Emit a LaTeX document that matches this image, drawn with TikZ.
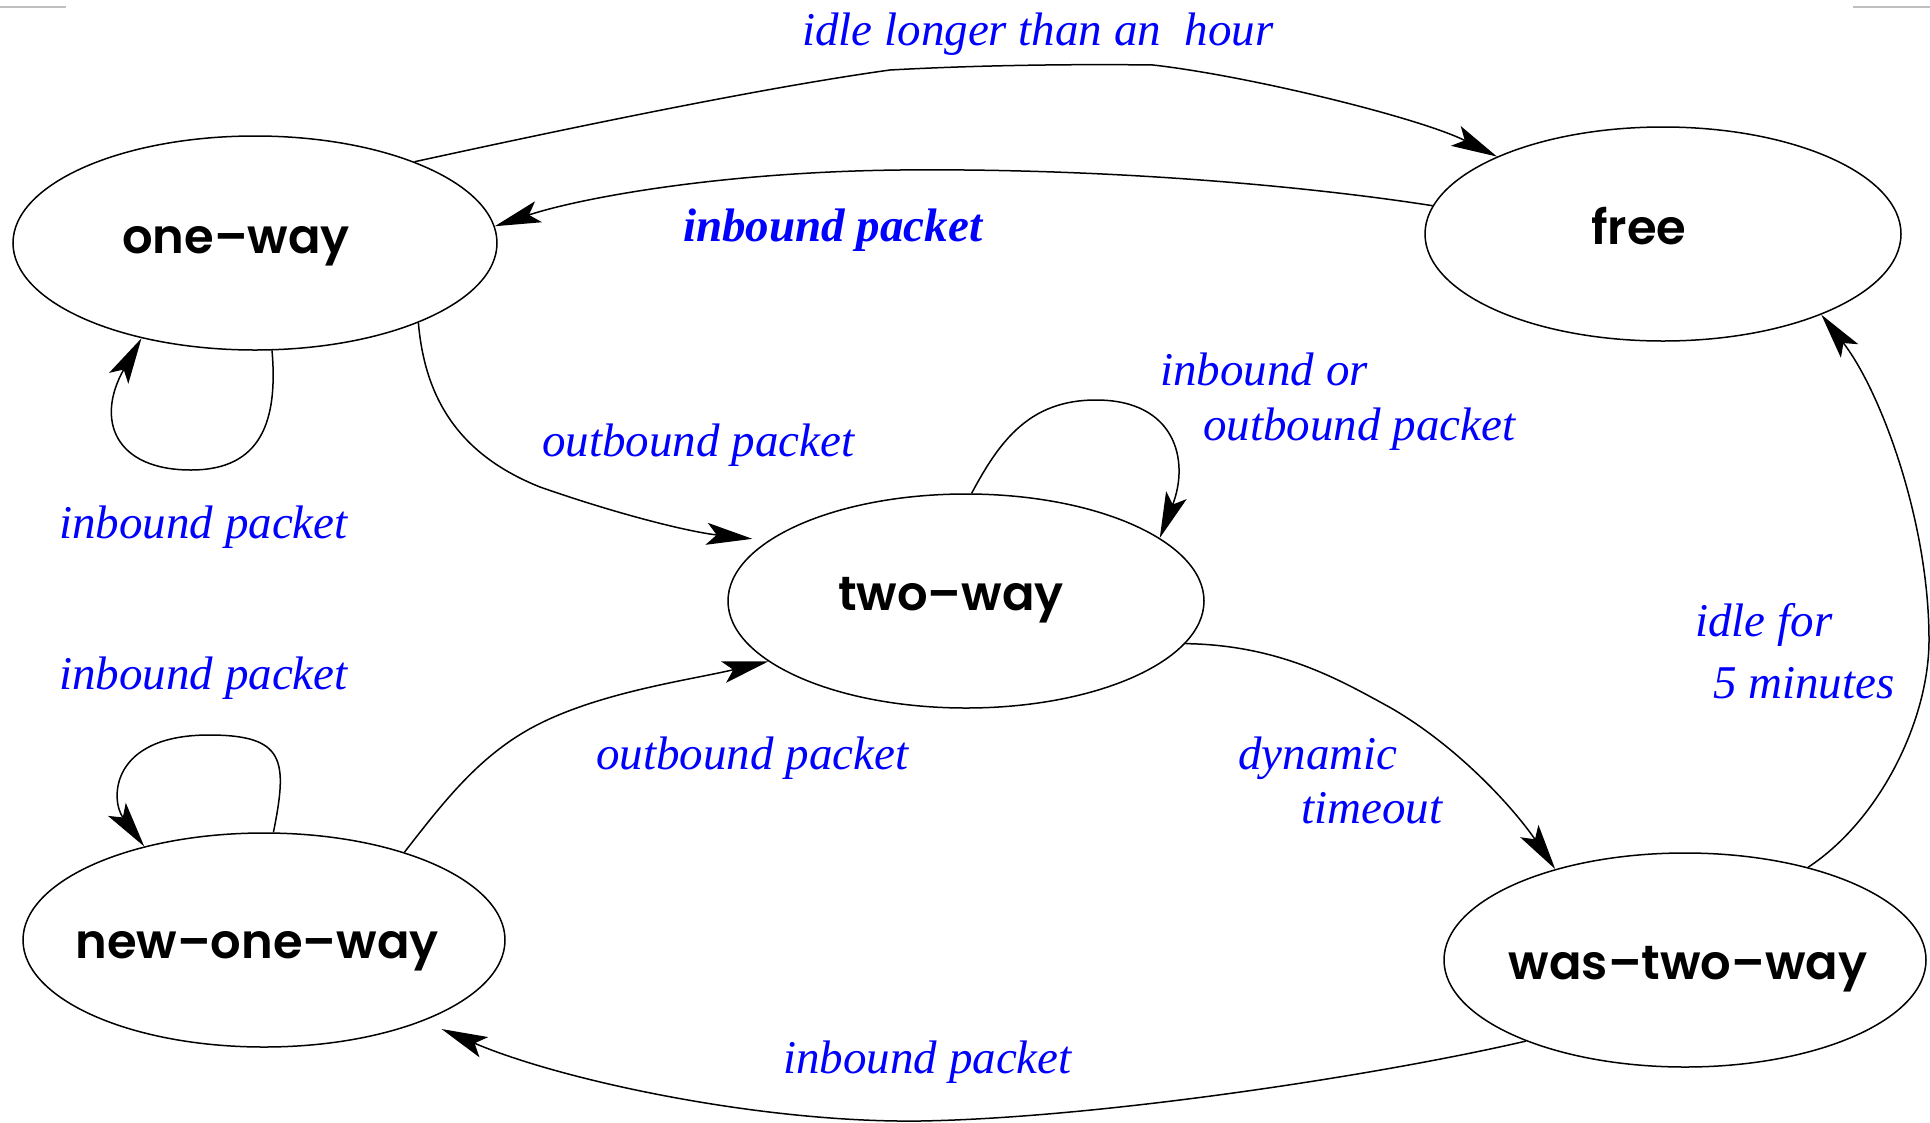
\documentclass[tikz,border=0pt]{standalone}
\usepackage{fontspec}
\setmainfont{Liberation Serif}
\newfontfamily\statefont{Poppins}[BoldFont={Poppins SemiBold}]
\usetikzlibrary{shapes.geometric,arrows.meta}
\begin{document}
\begin{tikzpicture}[x=1pt,y=-1pt,
  st/.style={draw,ellipse,line width=1.5pt,minimum height=214pt,inner sep=0pt},
  stname/.style={anchor=base,inner sep=0pt,font=\statefont\bfseries\fontsize{48}{56}\selectfont},
  lbl/.style={anchor=base west,inner sep=0pt,text=blue,font=\itshape\fontsize{47}{56}\selectfont},
  lblb/.style={anchor=base west,inner sep=0pt,text=blue,font=\bfseries\itshape\fontsize{47}{56}\selectfont},
  edge/.style={draw,line width=1.5pt,-{Stealth[length=46pt,width=22pt,inset=10pt]}},
  corner/.style={draw=black!25,line width=2.5pt}
]
\useasboundingbox (0,0) rectangle (1930,1122);
\fill[white] (0,0) rectangle (1930,1122);
\draw[corner] (0,7) -- (66,7);
\draw[corner] (1853,7) -- (1930,7);

% states
\node[st,minimum width=484pt] (oneway) at (255,243) {};
\node[st,minimum width=476pt] (free)   at (1663,234) {};
\node[st,minimum width=476pt] (twoway) at (966,601) {};
\node[st,minimum width=482pt] (newone) at (264,940) {};
\node[st,minimum width=482pt] (wastwo) at (1685,960) {};

\node[stname] (oneway-t) at (236,253) {one–way};
\node[stname] (free-t)   at (1639,244) {free};
\node[stname] (twoway-t) at (951,610) {two–way};
\node[stname] (newone-t) at (257,958) {new–one–way};
\node[stname] (wastwo-t) at (1688,979) {was–two–way};

% transitions
\draw[edge] (oneway.27) .. controls (560,130) and (760,88) .. (890,70)
   .. controls (980,65) and (1080,64) .. (1153,65)
   .. controls (1250,76) and (1420,118) .. (free.155);
\draw[edge] (free.173) .. controls (1300,185) and (1100,168) .. (900,170)
   .. controls (720,172) and (580,198) .. (oneway.4);
\draw[edge] (oneway.279) .. controls (278,420) and (262,470) .. (191,470)
   .. controls (115,470) and (95,420) .. (oneway.220);
\draw[edge,shorten >=16pt] (oneway.334) .. controls (425,400) and (460,455) .. (540,487)
   .. controls (620,515) and (690,532) .. (twoway.163);
\draw[edge] (twoway.87) .. controls (1000,440) and (1030,400) .. (1096,400)
   .. controls (1175,400) and (1190,460) .. (twoway.18);
\draw[edge] (twoway.349) .. controls (1280,645) and (1340,680) .. (1391,708)
   .. controls (1460,748) and (1515,810) .. (wastwo.145);
\draw[edge] (wastwo.37) .. controls (1880,820) and (1929,720) .. (1929,640)
   .. controls (1929,520) and (1880,390) .. (free.333);
\draw[edge] (newone.85) .. controls (288,760) and (285,735) .. (209,735)
   .. controls (110,735) and (110,800) .. (newone.142);
\draw[edge] (newone.32) .. controls (445,800) and (480,755) .. (535,726)
   .. controls (600,692) and (690,680) .. (twoway.197);
\draw[edge,shorten >=20pt] (wastwo.207) .. controls (1380,1075) and (1100,1118) .. (920,1121)
   .. controls (760,1123) and (560,1080) .. (newone.333);

% labels
\node[lbl]  (l-idle)  at (802,45)   {idle longer than an\ \ hour};
\node[lblb] (l-inb)   at (683,241)  {inbound packet};
\node[lbl]  (l-owl)   at (59,538)   {inbound packet};
\node[lbl]  (l-out1)  at (542,456)  {outbound packet};
\node[lbl]  (l-io1)   at (1160,385) {inbound or};
\node[lbl]  (l-io2)   at (1203,440) {outbound packet};
\node[lbl]  (l-if1)   at (1695,636) {idle for};
\node[lbl]  (l-if2)   at (1713,698) {5 minutes};
\node[lbl]  (l-nol)   at (59,689)   {inbound packet};
\node[lbl]  (l-out2)  at (596,769)  {outbound packet};
\node[lbl]  (l-dyn1)  at (1238,769) {dynamic};
\node[lbl]  (l-dyn2)  at (1301,823) {timeout};
\node[lbl]  (l-inb2)  at (783,1073) {inbound packet};
\end{tikzpicture}
\end{document}
